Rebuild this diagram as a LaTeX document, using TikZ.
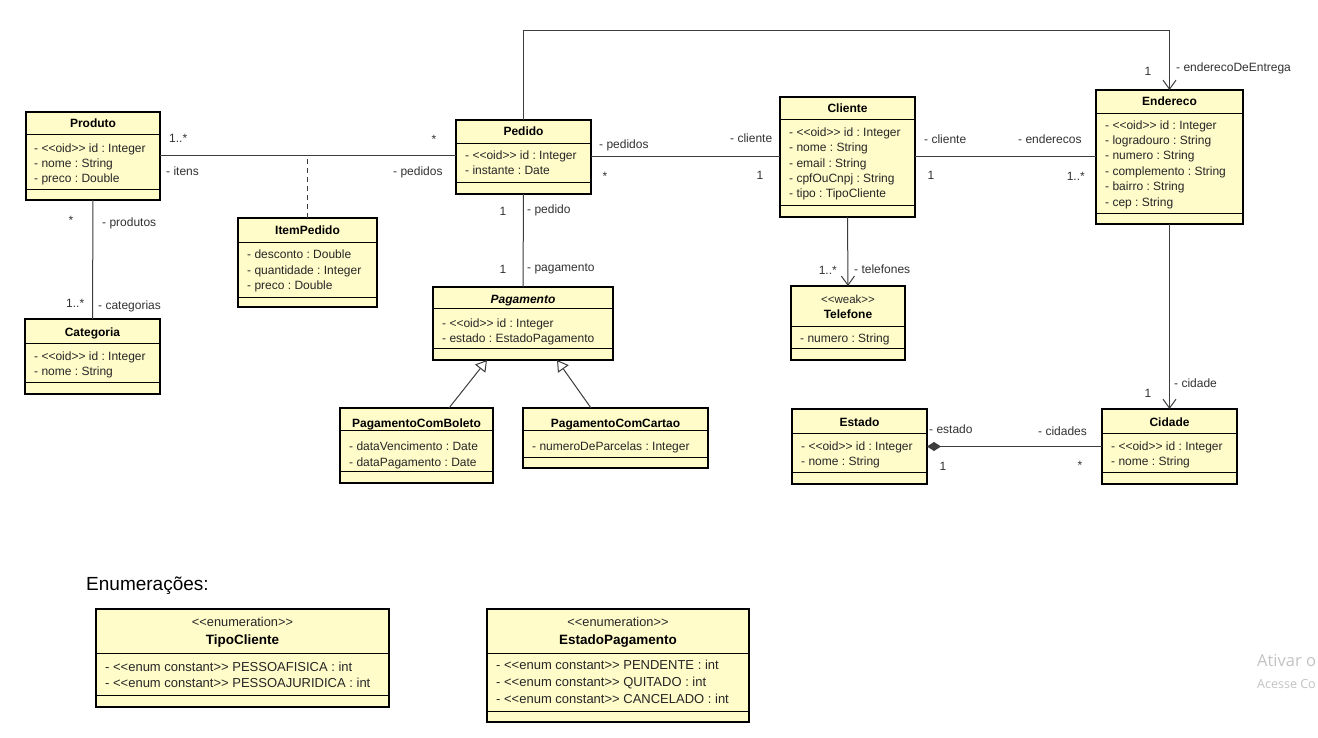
\documentclass[tikz,border=0pt]{standalone}
\usepackage{fontspec}
\setmainfont{Liberation Sans}[Ligatures=TeXOff]
\newfontfamily\wmfont{Open Sans}[Ligatures=TeXOff]
\frenchspacing
\usetikzlibrary{arrows.meta,fit}
\definecolor{umlfill}{RGB}{255,252,202}
\definecolor{linegray}{RGB}{60,60,60}
\definecolor{lblgray}{RGB}{50,50,50}
\definecolor{wmgray}{RGB}{195,195,195}
\tikzset{
  cbox/.style={draw=black, line width=2pt, fill=umlfill, inner sep=0pt, outer sep=0pt},
  sepline/.style={draw=black, line width=0.9pt},
  ctitle/.style={font=\fontsize{12}{14}\selectfont\bfseries, inner sep=0pt, text height=9pt, text depth=1pt},
  cattr/.style={font=\fontsize{12}{14}\selectfont, inner sep=0pt, anchor=west, text height=9pt, text depth=1pt, text=black!85},
  stereo/.style={font=\fontsize{11.5}{13}\selectfont, inner sep=0pt, text height=8pt, text depth=1pt, text=black!85},
  etitle/.style={ctitle, font=\fontsize{13.5}{16}\selectfont\bfseries},
  eattr/.style={cattr, font=\fontsize{13}{15}\selectfont},
  estereo/.style={stereo, font=\fontsize{12.8}{15}\selectfont},
  lbl/.style={font=\fontsize{12}{14}\selectfont, inner sep=0pt, text height=9pt, text depth=1pt, text=lblgray},
  wm/.style={text=wmgray, anchor=west, inner sep=0pt},
  assoc/.style={draw=linegray, line width=1pt},
  nav/.style={assoc, -{Straight Barb[length=9pt,width=13pt,line width=1pt]}},
  gen/.style={assoc, -{Triangle[open,length=11pt,width=13pt,fill=white,line width=1pt]}},
  comp/.style={assoc, {Diamond[length=14pt,width=9pt]}-},
}
% name, left, top, right, bottom, title separator, bottom separator
\newcommand{\umlclass}[7]{%
  \node[cbox, fit={(#2,#3) (#4,#5)}] (#1) {};
  \draw[sepline] (#2,#6) -- (#4,#6);
  \draw[sepline] (#2,#7) -- (#4,#7);
}
\begin{document}
\begin{tikzpicture}[x=1pt,y=-1pt]
\useasboundingbox (0,0) rectangle (1318,738);
\fill[white] (0,0) rectangle (1318,738);

% ---------- classes ----------
\umlclass{produto}{26}{112}{160}{200}{134}{189}
\node[ctitle] (produtoT) at (93,124) {Produto};
\node[cattr] (produtoA1) at (34,149) {- <<oid>> id : Integer};
\node[cattr] (produtoA2) at (34,164) {- nome : String};
\node[cattr] (produtoA3) at (34,179) {- preco : Double};

\umlclass{categoria}{25}{319}{160}{394}{343}{382}
\node[ctitle] (categoriaT) at (92.5,332) {Categoria};
\node[cattr] (categoriaA1) at (34,356) {- <<oid>> id : Integer};
\node[cattr] (categoriaA2) at (34,371) {- nome : String};

\umlclass{itempedido}{238}{218}{377}{307}{242}{297}
\node[ctitle] (itempedidoT) at (307.5,231) {ItemPedido};
\node[cattr] (itempedidoA1) at (247,255) {- desconto : Double};
\node[cattr] (itempedidoA2) at (247,271) {- quantidade : Integer};
\node[cattr] (itempedidoA3) at (247,286) {- preco : Double};

\umlclass{pedido}{456}{120}{591}{194}{143}{182}
\node[ctitle] (pedidoT) at (523.5,132) {Pedido};
\node[cattr] (pedidoA1) at (465,156) {- <<oid>> id : Integer};
\node[cattr] (pedidoA2) at (465,171) {- instante : Date};

\umlclass{cliente}{780}{97}{915}{217}{119}{205}
\node[ctitle] (clienteT) at (847.5,109) {Cliente};
\node[cattr] (clienteA1) at (789,133) {- <<oid>> id : Integer};
\node[cattr] (clienteA2) at (789,148) {- nome : String};
\node[cattr] (clienteA3) at (789,164) {- email : String};
\node[cattr] (clienteA4) at (789,179) {- cpfOuCnpj : String};
\node[cattr] (clienteA5) at (789,194) {- tipo : TipoCliente};

\umlclass{endereco}{1096}{90}{1243}{224}{113}{213}
\node[ctitle] (enderecoT) at (1169.5,102) {Endereco};
\node[cattr] (enderecoA1) at (1105,126) {- <<oid>> id : Integer};
\node[cattr] (enderecoA2) at (1105,141) {- logradouro : String};
\node[cattr] (enderecoA3) at (1105,156) {- numero : String};
\node[cattr] (enderecoA4) at (1105,172) {- complemento : String};
\node[cattr] (enderecoA5) at (1105,187) {- bairro : String};
\node[cattr] (enderecoA6) at (1105,203) {- cep : String};

\umlclass{pagamento}{433}{287}{613}{360}{308}{348}
\node[ctitle, font=\fontsize{12}{14}\selectfont\bfseries\itshape] (pagamentoT) at (523,299) {Pagamento};
\node[cattr] (pagamentoA1) at (442,323) {- <<oid>> id : Integer};
\node[cattr] (pagamentoA2) at (442,338) {- estado : EstadoPagamento};

\umlclass{boleto}{340}{408}{493}{483}{430}{471}
\node[ctitle] (boletoT) at (416.5,423) {PagamentoComBoleto};
\node[cattr] (boletoA1) at (349,446) {- dataVencimento : Date};
\node[cattr] (boletoA2) at (349,462) {- dataPagamento : Date};

\umlclass{cartao}{523}{408}{708}{468}{430}{457}
\node[ctitle] (cartaoT) at (615.5,423) {PagamentoComCartao};
\node[cattr] (cartaoA1) at (532,446) {- numeroDeParcelas : Integer};

\umlclass{telefone}{791}{286}{905}{360}{326}{348}
\node[stereo] (telefoneS) at (848,300) {<<weak>>};
\node[ctitle] (telefoneT) at (848,315) {Telefone};
\node[cattr] (telefoneA1) at (800,338) {- numero : String};

\umlclass{estado}{792}{409}{927}{484}{433}{472}
\node[ctitle] (estadoT) at (859.5,422) {Estado};
\node[cattr] (estadoA1) at (801,446) {- <<oid>> id : Integer};
\node[cattr] (estadoA2) at (801,461) {- nome : String};

\umlclass{cidade}{1102}{409}{1237}{484}{433}{472}
\node[ctitle] (cidadeT) at (1169.5,422) {Cidade};
\node[cattr] (cidadeA1) at (1111,446) {- <<oid>> id : Integer};
\node[cattr] (cidadeA2) at (1111,461) {- nome : String};

% ---------- enumerations ----------
\node[font=\fontsize{19}{22}\selectfont, inner sep=0pt, anchor=west, text height=13.5pt, text depth=3pt] (enumTitle) at (86,585) {Enumerações:};

\umlclass{tipocliente}{96}{609}{389}{707}{653}{695}
\node[estereo] (tipoclienteS) at (242.5,623) {<<enumeration>>};
\node[etitle] (tipoclienteT) at (242.5,640) {TipoCliente};
\node[eattr] (tipoclienteA1) at (105,667) {- <<enum constant>> PESSOAFISICA : int};
\node[eattr] (tipoclienteA2) at (105,683) {- <<enum constant>> PESSOAJURIDICA : int};

\umlclass{estadopag}{487}{609}{749}{722}{653}{711}
\node[estereo] (estadopagS) at (618,623) {<<enumeration>>};
\node[etitle] (estadopagT) at (618,640) {EstadoPagamento};
\node[eattr] (estadopagA1) at (496,665) {- <<enum constant>> PENDENTE : int};
\node[eattr] (estadopagA2) at (496,682) {- <<enum constant>> QUITADO : int};
\node[eattr] (estadopagA3) at (496,699) {- <<enum constant>> CANCELADO : int};

% ---------- connectors ----------
\draw[assoc] (produto.east) -- (produto.east -| pedido.west);
\draw[assoc, dashed, dash pattern=on 5pt off 4pt] (itempedido.north) -- (itempedido.north |- produto.east);
\draw[assoc] (produto.south) -- (categoria.north);
\draw[assoc] (pedido.east) -- (cliente.west);
\draw[assoc] (cliente.east) -- (endereco.west);
\draw[assoc] (pedido.south) -- (pagamento.north);
\coordinate (topy) at (0,31);
\draw[nav] (pedido.north) |- (topy -| endereco.north) -- (endereco.north);
\draw[nav] (cliente.south) -- (telefone.north);
\draw[nav] (endereco.south) -- (cidade.north);
\draw[comp] (estado.east) -- (estado.east -| cidade.west);
\draw[gen] ([xshift=32.5pt]boleto.north) -- ([xshift=-36pt]pagamento.south);
\draw[gen] ([xshift=-24.5pt]cartao.north) -- ([xshift=34pt]pagamento.south);

% ---------- labels ----------
\node[lbl, anchor=west] (l1) at (169,139) {1..*};
\node[lbl, anchor=west] (l2) at (166,172) {- itens};
\node[lbl] (l3) at (434,140) {*};
\node[lbl, anchor=west] (l4) at (393,172) {- pedidos};
\node[lbl] (l5) at (71,221) {*};
\node[lbl, anchor=west] (l6) at (102,223) {- produtos};
\node[lbl, anchor=west] (l7) at (66,303) {1..*};
\node[lbl, anchor=west] (l8) at (98,305) {- categorias};
\node[lbl, anchor=west] (l9) at (599,145) {- pedidos};
\node[lbl] (l10) at (605,177) {*};
\node[lbl, anchor=west] (l11) at (730,139) {- cliente};
\node[lbl] (l12) at (760,176) {1};
\node[lbl] (l13) at (503,212) {1};
\node[lbl, anchor=west] (l14) at (527,210) {- pedido};
\node[lbl] (l15) at (503,269) {1};
\node[lbl, anchor=west] (l16) at (527,268) {- pagamento};
\node[lbl, anchor=west] (l17) at (924,140) {- cliente};
\node[lbl] (l18) at (931,176) {1};
\node[lbl, anchor=west] (l19) at (1018,140) {- enderecos};
\node[lbl, anchor=east] (l20) at (1085,177) {1..*};
\node[lbl] (l21) at (1148,72) {1};
\node[lbl, anchor=west] (l22) at (1176,68) {- enderecoDeEntrega};
\node[lbl, anchor=east] (l23) at (837,271) {1..*};
\node[lbl, anchor=west] (l24) at (854,270) {- telefones};
\node[lbl, anchor=west] (l25) at (1174,383) {- cidade};
\node[lbl] (l26) at (1148,393) {1};
\node[lbl, anchor=west] (l27) at (929,429) {- estado};
\node[lbl] (l28) at (943,466) {1};
\node[lbl, anchor=west] (l29) at (1038,431) {- cidades};
\node[lbl] (l30) at (1080,465) {*};

% ---------- watermark, as much as the reference shows ----------
\node[wm, font=\wmfont\fontsize{16.5}{19}\selectfont] (wm1) at (1257,661) {Ativar o};
\node[wm, font=\wmfont\fontsize{12.5}{15}\selectfont] (wm2) at (1257,684) {Acesse Co};
\end{tikzpicture}
\end{document}
